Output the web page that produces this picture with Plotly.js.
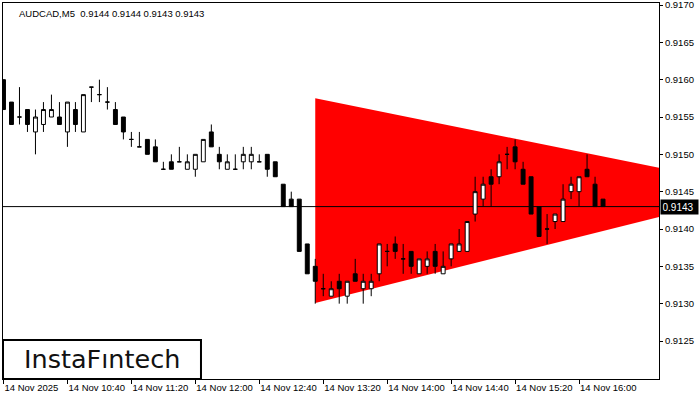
<!DOCTYPE html>
<html>
<head>
<meta charset="utf-8">
<script src="https://cdn.plot.ly/plotly-3.0.1.min.js"></script>
<style>html,body{margin:0;padding:0;background:#fff;}#chart{width:700px;height:400px;}</style>
</head>
<body>
<div id="chart"></div>
<script>
const day = "2025-11-14 ";
const times = ["10:00","10:05","10:10","10:15","10:20","10:25","10:30","10:35","10:40","10:45","10:50","10:55",
"11:00","11:05","11:10","11:15","11:20","11:25","11:30","11:35","11:40","11:45","11:50","11:55",
"12:00","12:05","12:10","12:15","12:20","12:25","12:30","12:35","12:40","12:45","12:50","12:55",
"13:00","13:05","13:10","13:15","13:20","13:25","13:30","13:35","13:40","13:45","13:50","13:55",
"14:00","14:05","14:10","14:15","14:20","14:25","14:30","14:35","14:40","14:45","14:50","14:55",
"15:00","15:05","15:10","15:15","15:20","15:25","15:30","15:35","15:40","15:45","15:50","15:55",
"16:00","16:05","16:10","16:15"];
const open = [0.9160,0.9157,0.9155,0.9156,0.9153,0.9154,0.9155,0.9155,0.9153,0.9156,0.9153,0.9159,
0.9158,0.9157,0.9156,0.9155,0.9152,0.9151,0.9152,0.9151,0.9148,0.9149,0.9149,0.9148,
0.9148,0.9149,0.9153,0.9150,0.9148,0.9148,0.9149,0.9149,0.9149,0.9150,0.9149,0.9146,
0.9144,0.9144,0.9138,0.9135,0.9132,0.9131,0.9133,0.9131,0.9134,0.9132,0.9132,0.9134,
0.9137,0.9138,0.9136,0.9137,0.9134,0.9135,0.9137,0.9134,0.9136,0.9137,0.9137,0.9142,
0.9144,0.9147,0.9147,0.9150,0.9151,0.9148,0.9147,0.9143,0.9140,0.9141,0.9141,0.9145,
0.9145,0.9148,0.9146,0.9144];
const high = [0.9160,0.9157,0.9159,0.9156,0.9156,0.9157,0.9158,0.9157,0.9157,0.9157,0.9158,0.9159,
0.9160,0.9159,0.9157,0.9155,0.9153,0.9153,0.9152,0.9152,0.9149,0.9150,0.9151,0.9150,
0.9150,0.9152,0.9154,0.9151,0.9150,0.9150,0.9151,0.9151,0.9150,0.9150,0.9149,0.9146,
0.9145,0.9144,0.9138,0.9136,0.9134,0.9133,0.9134,0.9133,0.9136,0.9134,0.9134,0.9138,
0.9138,0.9139,0.9138,0.9137,0.9136,0.9137,0.9138,0.9137,0.9138,0.9140,0.9141,0.9147,
0.9147,0.9148,0.9150,0.9151,0.9152,0.9149,0.9147,0.9143,0.9142,0.9142,0.9146,0.9147,
0.9147,0.9150,0.9147,0.9144];
const low = [0.9156,0.9154,0.9154,0.9153,0.9150,0.9153,0.9155,0.9154,0.9151,0.9153,0.9153,0.9157,
0.9157,0.9156,0.9154,0.9152,0.9151,0.9151,0.9150,0.9149,0.9148,0.9148,0.9149,0.9148,
0.9147,0.9149,0.9151,0.9148,0.9148,0.9148,0.9148,0.9148,0.9149,0.9147,0.9147,0.9143,
0.9143,0.9137,0.9134,0.9130,0.9131,0.9131,0.9130,0.9130,0.9133,0.9130,0.9131,0.9133,
0.9135,0.9136,0.9134,0.9134,0.9134,0.9134,0.9134,0.9134,0.9135,0.9137,0.9137,0.9141,
0.9143,0.9143,0.9146,0.9148,0.9148,0.9146,0.9142,0.9139,0.9138,0.9140,0.9141,0.9144,
0.9143,0.9147,0.9143,0.9143];
const close = [0.9156,0.9154,0.9155,0.9154,0.9155,0.9156,0.9156,0.9154,0.9157,0.9154,0.9158,0.9159,
0.9158,0.9157,0.9154,0.9153,0.9152,0.9151,0.9150,0.9149,0.9148,0.9148,0.9149,0.9149,
0.9150,0.9152,0.9151,0.9149,0.9149,0.9148,0.9150,0.9150,0.9149,0.9148,0.9147,0.9143,
0.9143,0.9137,0.9134,0.9133,0.9132,0.9132,0.9132,0.9133,0.9133,0.9133,0.9133,0.9138,
0.9137,0.9137,0.9136,0.9135,0.9136,0.9136,0.9135,0.9135,0.9138,0.9138,0.9141,0.9145,
0.9146,0.9146,0.9149,0.9150,0.9149,0.9146,0.9142,0.9139,0.9140,0.9142,0.9144,0.9146,
0.9147,0.9147,0.9143,0.9143];

// Triangle pattern (start time, end time, upper & lower border prices)
const triTimes = ["13:15","16:50"];
const triUpper = [0.91575, 0.91482];
const triLower = [0.91301, 0.91416];

const currentPrice = 0.9143;
const titleText = "AUDCAD,M5\u00a0\u00a00.9144 0.9144 0.9143 0.9143";
const tickTimes = ["10:00","10:40","11:20","12:00","12:40","13:20","14:00","14:40","15:20","16:00"];
const tickLabels = ["14 Nov 2025","14 Nov 10:40","14 Nov 11:20","14 Nov 12:00","14 Nov 12:40","14 Nov 13:20","14 Nov 14:00","14 Nov 14:40","14 Nov 15:20","14 Nov 16:00"];
const priceTicks = [0.9125,0.9130,0.9135,0.9140,0.9145,0.9150,0.9155,0.9160,0.9165,0.9170];

const xRange = [day + "09:59:42", day + "16:50:00"];
const yRange = [0.911991, 0.917027];
const F = "Liberation Sans, Arial, sans-serif";

const triangle = {
  type: "scatter", mode: "lines", xaxis: "x", yaxis: "y",
  x: [day + triTimes[0], day + triTimes[1], day + triTimes[1], day + triTimes[0]],
  y: [triUpper[0], triUpper[1], triLower[1], triLower[0]],
  fill: "toself", fillcolor: "#ff0000", line: {width: 0, color: "#ff0000"},
  hoverinfo: "skip", showlegend: false
};
const priceLine = {
  type: "scatter", mode: "lines", xaxis: "x", yaxis: "y",
  x: xRange, y: [currentPrice, currentPrice],
  line: {color: "#000", width: 1}, hoverinfo: "skip", showlegend: false
};
const candles = {
  type: "candlestick", xaxis: "x2", yaxis: "y2",
  x: times.map(t => day + t), open: open, high: high, low: low, close: close,
  increasing: {line: {color: "#000", width: 1}, fillcolor: "#ffffff"},
  decreasing: {line: {color: "#000", width: 1}, fillcolor: "#000000"},
  whiskerwidth: 0, hoverinfo: "skip", showlegend: false
};

const layout = {
  width: 700, height: 400,
  margin: {l: 3, r: 41, t: 3, b: 21, pad: 0},
  paper_bgcolor: "#fff", plot_bgcolor: "#fff",
  showlegend: false,
  font: {family: F, size: 9.5, color: "#000"},
  xaxis: {
    type: "date", range: xRange, rangeslider: {visible: false},
    showgrid: false, zeroline: false,
    showline: true, linecolor: "#000", linewidth: 1, mirror: true,
    ticks: "outside", ticklen: 4, tickcolor: "#000", tickwidth: 1,
    tickvals: tickTimes.map(t => day + t), ticktext: tickLabels,
    ticklabelposition: "outside right", tickangle: 0, ticklabeloverflow: "allow",
    tickfont: {family: F, size: 9.5, color: "#000"}
  },
  yaxis: {
    range: yRange, side: "right",
    showgrid: false, zeroline: false,
    showline: true, linecolor: "#000", linewidth: 1, mirror: true,
    ticks: "outside", ticklen: 3, tickcolor: "#000", tickwidth: 1,
    tickvals: priceTicks, ticktext: priceTicks.map(v => v.toFixed(4)),
    ticklabeloverflow: "allow",
    tickfont: {family: F, size: 9.5, color: "#000"}
  },
  xaxis2: {
    type: "date", overlaying: "x", range: xRange, visible: false,
    rangeslider: {visible: false}, showgrid: false, zeroline: false
  },
  yaxis2: {
    overlaying: "y", range: yRange, visible: false, side: "right",
    showgrid: false, zeroline: false
  },
  shapes: [
    {type: "rect", xref: "paper", yref: "paper", x0: 0, x1: 0.3018, y0: 0, y1: 0.1037,
     line: {color: "#000", width: 2}, fillcolor: "#fff", layer: "above"}
  ],
  annotations: [
    {xref: "paper", yref: "paper", x: 0, y: 1, xanchor: "left", yanchor: "top",
     xshift: 14, yshift: -3, text: titleText, showarrow: false,
     font: {family: F, size: 9.5, color: "#000"}},
    {xref: "paper", yref: "y", x: 1, y: currentPrice, xanchor: "left", yanchor: "middle",
     xshift: 1, text: currentPrice.toFixed(4), showarrow: false, bgcolor: "#000",
     width: 34, align: "left", borderpad: 1.5, font: {family: F, size: 10, color: "#fff"}},
    {xref: "paper", yref: "paper", x: 0.1509, y: 0.0519, xanchor: "center", yanchor: "middle",
     text: "InstaF\u0131ntech", showarrow: false,
     font: {family: "DejaVu Sans, sans-serif", size: 25.5, color: "#111"}}
  ]
};

Plotly.newPlot("chart", [triangle, priceLine, candles], layout, {staticPlot: true, displayModeBar: false});
</script>
</body>
</html>
